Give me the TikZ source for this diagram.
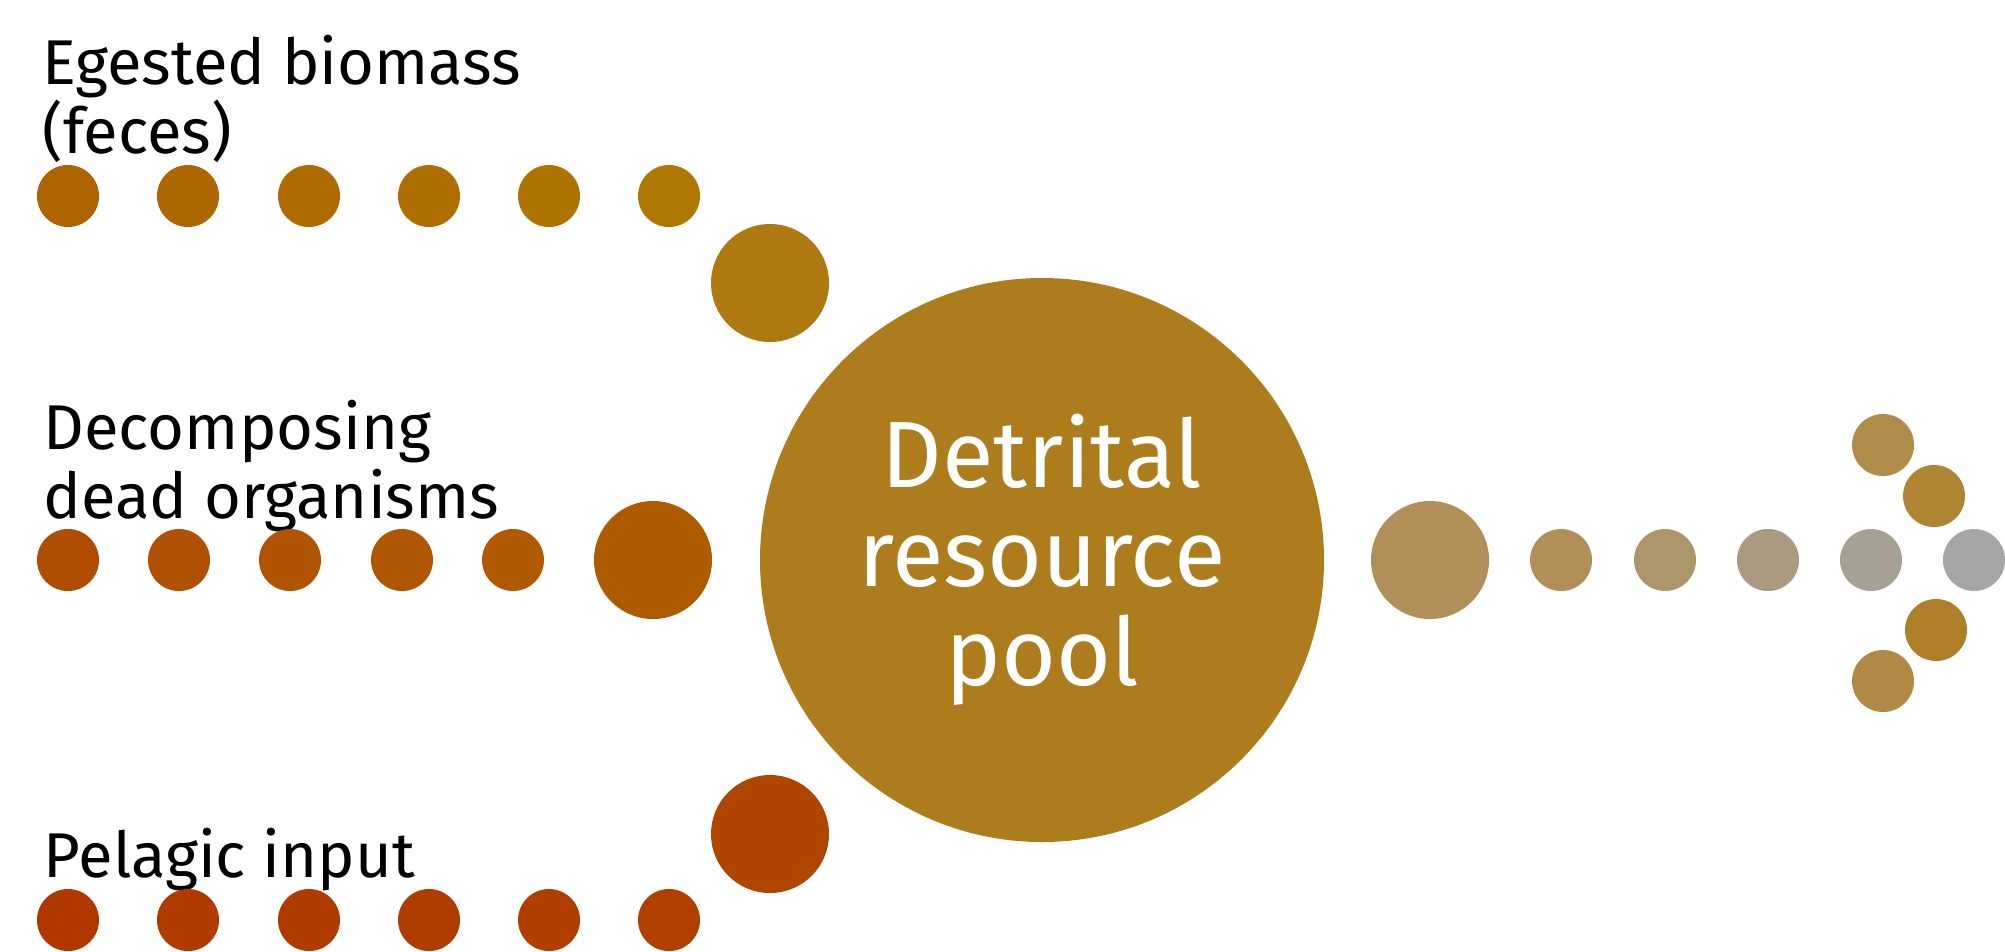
\documentclass[tikz,border=0pt]{standalone}
\usepackage{fontspec}
\setmainfont{Fira Sans}

\definecolor{egestL}{HTML}{AD6300}
\definecolor{egestR}{HTML}{AE7700}
\definecolor{egestB}{HTML}{AE7910}
\definecolor{deadL}{HTML}{B04E00}
\definecolor{deadR}{HTML}{B05900}
\definecolor{deadB}{HTML}{AE5B00}
\definecolor{pelL}{HTML}{B03800}
\definecolor{pelR}{HTML}{B04000}
\definecolor{pelB}{HTML}{B04500}
\definecolor{pool}{HTML}{AD7D1D}
\definecolor{outL}{HTML}{B09058}
\definecolor{outR}{HTML}{A5A5A5}
\definecolor{tipA}{HTML}{B08C4A}
\definecolor{tipB}{HTML}{AF8432}
\definecolor{tipC}{HTML}{AE7F28}
\definecolor{tipD}{HTML}{B08A45}

\tikzset{
  dot/.style={circle,inner sep=0pt,minimum size=6.2mm},
  bigdot/.style={circle,inner sep=0pt,minimum size=11.8mm},
  srctext/.style={inner sep=0pt,align=left,anchor=base west,
    font=\fontsize{18}{19.4}\selectfont}
}

\begin{document}
\begin{tikzpicture}[x=0.1mm,y=-0.1mm]
\useasboundingbox (0,0) rectangle (2005,951);

% detrital pool
\node[circle,fill=pool,inner sep=0pt,minimum size=56.4mm,text=white,align=center,
      font=\fontsize{26.8}{28.1}\selectfont] (pool) at (1042,560) {Detrital\\resource\\pool};

% egested biomass (base = last line)
\node[srctext] (egtext) at (42,153) {Egested biomass\\(feces)};
\foreach \x [count=\i, evaluate=\i as \m using (\i-1)*20] in {68,188,309,429,549,669}
  \node[dot,fill=egestR!\m!egestL] (eg\i) at (\x,196) {};
\node[bigdot,fill=egestB] (egin) at (770,283) {};

% dead organisms
\node[srctext] (deadtext) at (43,518) {Decomposing\\dead organisms};
\foreach \x [count=\i, evaluate=\i as \m using (\i-1)*25] in {68,179,290,402,513}
  \node[dot,fill=deadR!\m!deadL] (dead\i) at (\x,560) {};
\node[bigdot,fill=deadB] (deadin) at (653,560) {};

% pelagic input
\node[srctext] (peltext) at (43,877) {Pelagic input};
\foreach \x [count=\i, evaluate=\i as \m using (\i-1)*20] in {68,188,309,429,549,669}
  \node[dot,fill=pelR!\m!pelL] (pel\i) at (\x,920) {};
\node[bigdot,fill=pelB] (pelin) at (770,834) {};

% output arrow
\node[bigdot,fill=outL] (outbig) at (1430,560) {};
\foreach \x [count=\i, evaluate=\i as \m using 100-(\i-1)*25] in {1561,1665,1768,1871,1974}
  \node[dot,fill=outL!\m!outR] (out\i) at (\x,560) {};
\node[dot,fill=tipA] (tip1) at (1883,445) {};
\node[dot,fill=tipB] (tip2) at (1934,496) {};
\node[dot,fill=tipC] (tip3) at (1936,630) {};
\node[dot,fill=tipD] (tip4) at (1883,681) {};
\end{tikzpicture}
\end{document}
